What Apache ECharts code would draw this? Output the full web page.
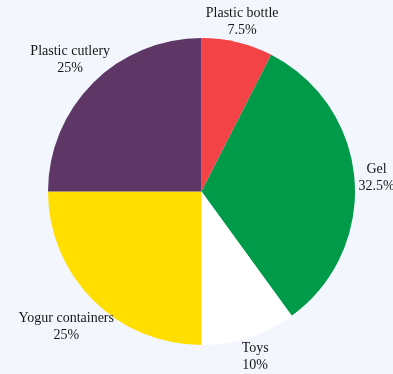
<!DOCTYPE html>
<html>
<head>
<meta charset="utf-8">
<script src="https://cdn.jsdelivr.net/npm/echarts@6/dist/echarts.min.js"></script>
<style>
html,body{margin:0;padding:0;background:#f3f7fd;}
#chart{width:393px;height:374px;}
</style>
</head>
<body>
<div id="chart"></div>
<script>
const categories = ['Plastic bottle', 'Gel', 'Toys', 'Yogur containers', 'Plastic cutlery'];
const values = [7.5, 32.5, 10, 25, 25];
const colors = ['#f44346', '#009a48', '#ffffff', '#ffde00', '#5e3767'];

const CX = 201.5, CY = 191.5, R = 153.5, GAP = 4;
const total = values.reduce((a, b) => a + b, 0);
const midAngles = [];
let acc = 0;
values.forEach(v => { midAngles.push((acc + v / 2) / total * 2 * Math.PI); acc += v; });

const chart = echarts.init(document.getElementById('chart'));
chart.setOption({
  backgroundColor: '#f3f7fd',
  animation: false,
  series: [{
    type: 'pie',
    center: [CX, CY],
    radius: [0, R],
    startAngle: 90,
    clockwise: true,
    avoidLabelOverlap: false,
    data: categories.map((c, i) => ({ name: c, value: values[i], itemStyle: { color: colors[i] } })),
    itemStyle: { borderWidth: 0 },
    label: {
      show: true,
      position: 'outside',
      alignTo: 'none',
      overflow: 'none',
      formatter: p => p.name + '\n' + p.value + '%',
      fontFamily: 'Liberation Serif',
      fontSize: 14,
      lineHeight: 17,
      color: '#161616',
      align: 'center'
    },
    labelLine: { show: false },
    emphasis: { disabled: true }
  }]
});
chart.setOption({
  series: [{
    labelLayout: function (params) {
      const a = midAngles[params.dataIndex];
      const ux = Math.sin(a), uy = -Math.cos(a);
      const hw = params.labelRect.width / 2, hh = params.labelRect.height / 2;
      const d = R + GAP + Math.max(hw * Math.abs(ux), hh * Math.abs(uy));
      return { x: CX + ux * d, y: CY + uy * d, align: 'center', verticalAlign: 'middle' };
    }
  }]
});
</script>
</body>
</html>
